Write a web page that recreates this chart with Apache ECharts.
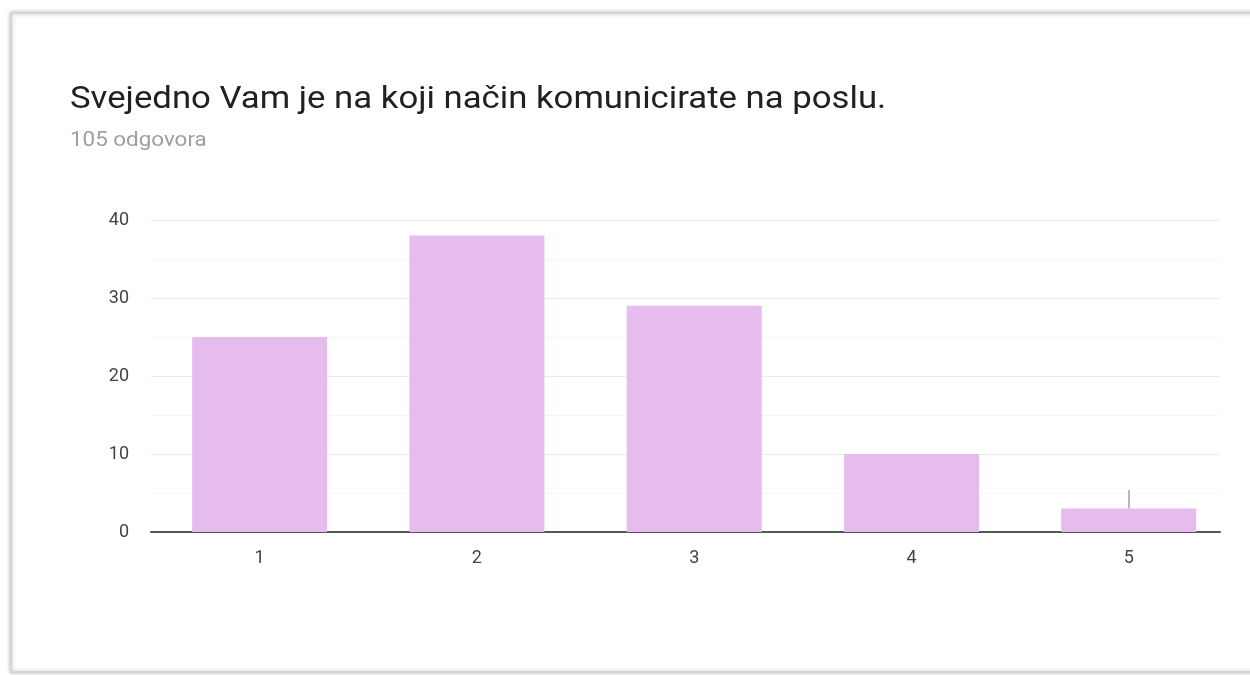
<!DOCTYPE html>
<html>
<head>
<meta charset="utf-8">
<script src="https://cdn.jsdelivr.net/npm/echarts@6/dist/echarts.min.js"></script>
<style>
  html, body { margin: 0; padding: 0; background: #fff; }
  #Echarts { width: 1250px; height: 675px; }
</style>
</head>
<body>
<div id="Echarts"></div>
<script>
// podaci
var titleText = 'Svejedno Vam je na koji način komunicirate na poslu.';
var subText = '105 odgovora';
var categories = [1, 2, 3, 4, 5];
var counts = [25, 38, 29, 10, 3];
var yTicks = [0, 10, 20, 30, 40];

var myChart = echarts.init(document.getElementById('Echarts'));

var barData = categories.map(function (c, i) { return [c, counts[i]]; });

var option = {
    animation: false,
    textStyle: { fontFamily: 'Roboto, Arial, sans-serif' },
    graphic: [
        {
            type: 'rect',
            z: -10,
            shape: { x: 11, y: 13, width: 1260, height: 659 },
            style: {
                fill: '#fff',
                stroke: '#d4d4d4',
                lineWidth: 2,
                shadowBlur: 4,
                shadowColor: 'rgba(0,0,0,0.25)'
            }
        },
        {
            type: 'text',
            x: 70,
            y: 85,
            scaleX: 1.12,
            style: { text: titleText, font: '31px Roboto', fill: '#212121', verticalAlign: 'top' }
        },
        {
            type: 'text',
            x: 70,
            y: 131,
            scaleX: 1.12,
            style: { text: subText, font: '20px Roboto', fill: '#9e9e9e', verticalAlign: 'top' }
        }
    ],
    grid: { left: 151, right: 30, top: 220, bottom: 143 },
    xAxis: {
        type: 'value',
        min: 0.5,
        max: 5.42,
        interval: 0.5,
        splitLine: { show: false },
        axisTick: { show: false },
        axisLine: { show: true, onZero: false, lineStyle: { color: '#555', width: 2 } },
        axisLabel: {
            margin: 17,
            fontSize: 18,
            color: '#444',
            showMinLabel: false,
            showMaxLabel: false,
            formatter: function (v) {
                return categories.indexOf(v) >= 0 ? String(v) : '';
            }
        }
    },
    yAxis: {
        type: 'value',
        min: 0,
        max: yTicks[yTicks.length - 1],
        interval: 10,
        axisLine: { show: false },
        axisTick: { show: false },
        axisLabel: { margin: 22, fontSize: 18, color: '#444' },
        splitLine: { lineStyle: { color: '#ebebeb', width: 1 } },
        minorTick: { show: false, splitNumber: 2 },
        minorSplitLine: { show: true, lineStyle: { color: '#f5f5f5', width: 1 } }
    },
    series: [
        {
            type: 'bar',
            barWidth: 135,
            data: barData,
            itemStyle: { color: '#e6bbee' },
            markLine: {
                silent: true,
                symbol: 'none',
                label: { show: false },
                lineStyle: { color: '#a0a0a0', type: 'solid', width: 1.5 },
                data: [[{ coord: [5, 3] }, { coord: [5, 5.4] }]]
            }
        }
    ]
};

myChart.setOption(option);
</script>
</body>
</html>
